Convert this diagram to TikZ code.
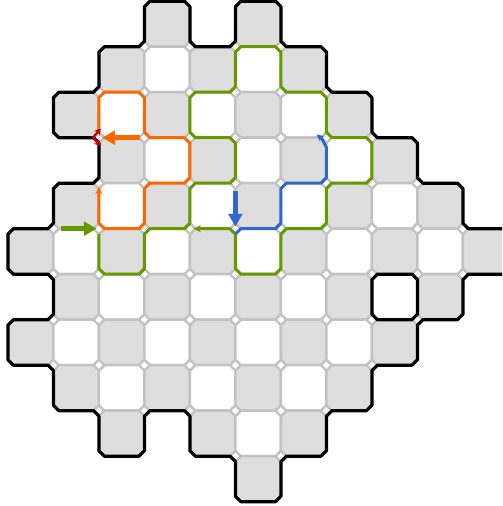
\documentclass[tikz,border=0pt]{standalone}
\usetikzlibrary{arrows.meta, calc}
\definecolor{tilegray}{RGB}{222,222,222}
\definecolor{linegray}{RGB}{194,194,194}
\definecolor{trailorange}{RGB}{255,102,0}
\definecolor{trailgreen}{RGB}{102,153,0}
\definecolor{trailblue}{RGB}{51,102,204}
\definecolor{stopred}{RGB}{204,0,0}
\newcommand{\chm}{0.12}
\newcommand{\chml}{0.12cm}
\tikzset{
    tile/.style={fill=white, draw=linegray, line width=1.5pt},
    rim/.style={draw=black, line width=2pt, line join=round},
    trail/.style={line width=1.9pt, line join=round, -{Stealth[length=4.6pt,width=4.4pt]}},
    push/.style={line width=3.3pt, -{Triangle[length=8pt,width=8.5pt]}},
    stopmark/.style={draw=stopred, line width=1.4pt, {Stealth[length=4pt,width=4.6pt]}-{Stealth[length=4pt,width=4.6pt]}}
}
\newcommand{\tilepath}[2]{(#1+\chm,#2) -- (#1+1-\chm,#2) -- (#1+1,#2+\chm) -- (#1+1,#2+1-\chm) -- (#1+1-\chm,#2+1) -- (#1+\chm,#2+1) -- (#1,#2+1-\chm) -- (#1,#2+\chm) -- cycle}
\newcommand{\rimloop}[1]{%
    \foreach \x/\y [count=\k] in {#1} {\coordinate (b\k) at (\x,\y); \xdef\nb{\k}}
    \draw[rim] ($(b1)!\chml!(b\nb)$) \foreach \k [evaluate=\k as \kp using {int(mod(\k+\nb-2,\nb)+1)}, evaluate=\k as \kn using {int(mod(\k,\nb)+1)}] in {1,...,\nb} {-- ($(b\k)!\chml!(b\kp)$) -- ($(b\k)!\chml!(b\kn)$)} -- cycle;
}
\newcommand{\trailpath}[2]{%
    \foreach \x/\y [count=\k] in {#2} {\coordinate (t\k) at (\x,\y); \xdef\nt{\k}}
    \pgfmathtruncatemacro{\ntm}{\nt-1}
    \draw[trail, #1] (t1) \foreach \k [evaluate=\k as \kp using {int(\k-1)}, evaluate=\k as \kn using {int(\k+1)}] in {2,...,\ntm} {-- ($(t\k)!\chml!(t\kp)$) -- ($(t\k)!\chml!(t\kn)$)} -- (t\nt);
}
\begin{document}
\begin{tikzpicture}[x=1cm, y=-1cm]
    \useasboundingbox (-0.174,-0.026) rectangle (10.86,11.095);
    \clip (-0.174,-0.026) rectangle (10.86,11.095);
    \fill[white] (-0.174,-0.026) rectangle (10.86,11.095);
    \foreach \row/\cols in {0/{3,5}, 1/{2,3,4,5,6}, 2/{1,2,3,4,5,6,7}, 3/{2,3,4,5,6,7,8}, 4/{1,2,3,4,5,6,7,8,9}, 5/{0,1,2,3,4,5,6,7,8,9,10}, 6/{1,2,3,4,5,6,7,9}, 7/{0,1,2,3,4,5,6,7,8}, 8/{1,2,3,4,5,6,7}, 9/{2,4,5,6}, 10/{5}}
        \foreach \col in \cols {
            \ifodd\numexpr\col+\row\relax
                \path[tile, fill=tilegray] \tilepath{\col}{\row};
            \else
                \path[tile] \tilepath{\col}{\row};
            \fi
        }
    \rimloop{3/0, 4/0, 4/1, 5/1, 5/0, 6/0, 6/1, 7/1, 7/2, 8/2, 8/3, 9/3, 9/4, 10/4, 10/5, 11/5, 11/6, 10/6, 10/7, 9/7, 9/8, 8/8, 8/9, 7/9, 7/10, 6/10, 6/11, 5/11, 5/10, 4/10, 4/9, 3/9, 3/10, 2/10, 2/9, 1/9, 1/8, 0/8, 0/7, 1/7, 1/6, 0/6, 0/5, 1/5, 1/4, 2/4, 2/3, 1/3, 1/2, 2/2, 2/1, 3/1}
    \rimloop{8/6, 9/6, 9/7, 8/7}
    \trailpath{draw=trailorange}{2/2.9, 2/2, 3/2, 3/3, 4/3, 4/4, 3/4, 3/5, 2/5, 2/4.08}
    \trailpath{draw=trailgreen}{2/5.12, 2/6, 3/6, 3/5, 4/5, 4/4, 5/4, 5/3, 4/3, 4/2, 5/2, 5/1, 6/1, 6/2, 7/2, 7/3, 8/3, 8/4, 7/4, 7/5, 6/5, 6/6, 5/6, 5/5, 4.08/5}
    \trailpath{draw=trailblue}{5/5.12, 5/5, 6/5, 6/4, 7/4, 7/3.1, 6.78/2.93}
    \coordinate (greenin) at (1.16,5);
    \coordinate (greenout) at (1.95,5);
    \coordinate (orangein) at (2.9,3);
    \coordinate (orangeout) at (2.07,3);
    \coordinate (bluein) at (5,4.165);
    \coordinate (blueout) at (5,4.956);
    \draw[push, trailgreen] (greenin) -- (greenout);
    \draw[push, trailorange] (orangein) -- (orangeout);
    \draw[push, trailblue] (bluein) -- (blueout);
    \coordinate (stop) at (2,3);
    \draw[stopmark] ($(stop)+(0.04,-0.2)$) -- ($(stop)+(-0.13,0)$) -- ($(stop)+(0.04,0.18)$);
\end{tikzpicture}
\end{document}
